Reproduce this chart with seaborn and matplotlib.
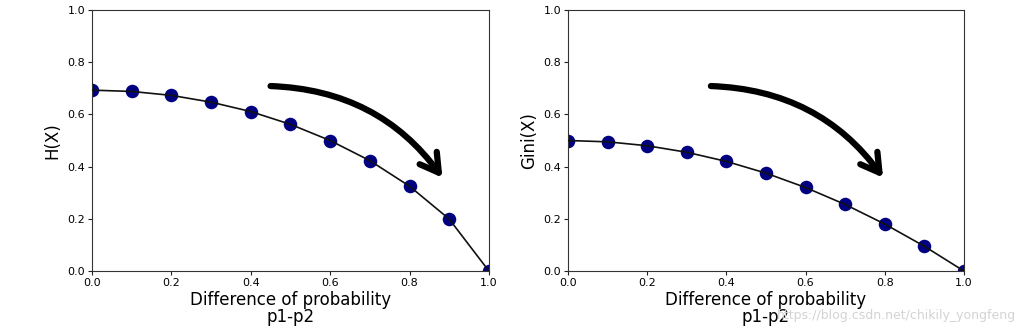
import numpy as np
import pandas as pd
import matplotlib
matplotlib.use("Agg")
import matplotlib.pyplot as plt
import seaborn as sns
from matplotlib.patches import FancyArrowPatch

# Data
diff = [0.0, 0.1, 0.2, 0.3, 0.4, 0.5, 0.6, 0.7, 0.8, 0.9, 1.0]
entropy = [0.693, 0.688, 0.673, 0.647, 0.611, 0.562, 0.500, 0.423, 0.325, 0.199, 0.0]
gini = [0.500, 0.495, 0.480, 0.455, 0.420, 0.375, 0.320, 0.255, 0.180, 0.095, 0.0]
ylabels = ["H(X)", "Gini(X)"]
xlabel = "Difference of probability\np1-p2"
ticks = [0.0, 0.2, 0.4, 0.6, 0.8, 1.0]
arrow_starts = [(0.443, 0.709), (0.354, 0.709)]
arrow_ends = [(0.887, 0.349), (0.800, 0.349)]
watermark = "https://blog.csdn.net/chikily_yongfeng"

sns.set_style("ticks")
plt.rcParams['font.family'] = ['DejaVu Sans']
plt.rcParams['text.color'] = 'black'
plt.rcParams['axes.labelcolor'] = 'black'

fig = plt.figure(figsize=(10.31, 3.34), dpi=100)
ax1 = fig.add_axes([0.0892, 0.1886, 0.385, 0.7814])
ax2 = fig.add_axes([0.5509, 0.1886, 0.384, 0.7814])

series = [entropy, gini]
for ax, vals, yl, s, e in zip([ax1, ax2], series, ylabels, arrow_starts, arrow_ends):
    df = pd.DataFrame({"d": diff, "v": vals})
    sns.scatterplot(data=df, x="d", y="v", ax=ax, color="#000080", s=95,
                    edgecolor="#000080", linewidth=0, zorder=2)
    sns.lineplot(data=df, x="d", y="v", ax=ax, color="#111111", linewidth=1.2, zorder=3)
    ax.set_xlim(0, 1)
    ax.set_ylim(0, 1)
    ax.set_xticks(ticks)
    ax.set_yticks(ticks)
    ax.tick_params(labelsize=8, length=3, width=0.8, colors="#222222",
                   labelcolor="black", pad=2)
    ax.set_xlabel(xlabel, fontsize=12, linespacing=0.95, labelpad=2)
    ax.set_ylabel(yl, fontsize=12, labelpad=4)
    for sp in ax.spines.values():
        sp.set_visible(True)
        sp.set_color("#333333")
        sp.set_linewidth(0.8)
    arr = FancyArrowPatch(s, e, connectionstyle="arc3,rad=-0.25",
                          arrowstyle="->,head_length=0.65,head_width=0.38",
                          mutation_scale=20, linewidth=4.5, color="black",
                          capstyle="round", joinstyle="round", zorder=4)
    ax.add_patch(arr)

fig.text(0.985, 0.054, watermark, ha="right", va="center", fontsize=9, color="#d3d3d3")

fig.savefig("out.png", dpi=100)
